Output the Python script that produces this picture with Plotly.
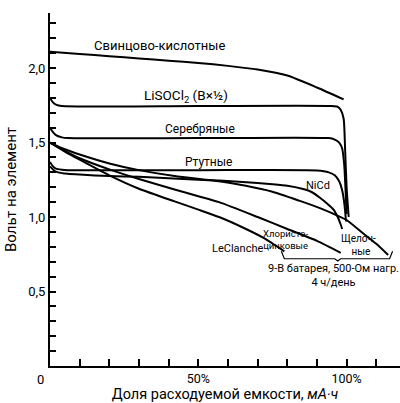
import plotly.graph_objects as go

# Discharge curves: x = share of used capacity (%), y = volts per cell
lead_x = [0, 10, 20, 30, 40, 50, 60, 70, 80, 90, 99]
lead_v = [2.11, 2.095, 2.08, 2.065, 2.05, 2.035, 2.015, 1.99, 1.95, 1.87, 1.79]

lisocl_x = [0, 1, 2, 4, 50, 95, 97, 98, 99, 99.5, 100, 100.7]
lisocl_v = [1.80, 1.77, 1.755, 1.745, 1.745, 1.745, 1.74, 1.72, 1.66, 1.45, 1.2, 1.0]

silver_x = [0, 1, 2, 4, 6, 50, 94, 96, 97.5, 98.5, 99.2, 99.6, 100]
silver_v = [1.6, 1.57, 1.55, 1.535, 1.53, 1.53, 1.53, 1.52, 1.5, 1.46, 1.35, 1.2, 1.02]

mercury_x = [0, 1, 2, 4, 6, 50, 90, 94, 96, 97.5, 98.5, 99.3, 99.8]
mercury_v = [1.37, 1.34, 1.325, 1.318, 1.315, 1.315, 1.313, 1.30, 1.28, 1.24, 1.18, 1.08, 0.97]

nicd_x = [0, 1, 2, 4, 6, 10, 20, 30, 40, 50, 57, 65, 75, 80, 85, 88, 91, 93.5, 95.6, 97, 98, 98.5]
nicd_v = [1.34, 1.32, 1.305, 1.295, 1.29, 1.285, 1.275, 1.27, 1.26, 1.25, 1.245, 1.235, 1.22, 1.21,
          1.19, 1.17, 1.13, 1.09, 1.05, 1.0, 0.95, 0.92]

alk_x = [0, 5, 10, 20, 30, 42, 57, 66, 75, 84, 91, 98, 100, 105, 110, 114]
alk_v = [1.5, 1.455, 1.42, 1.36, 1.315, 1.275, 1.24, 1.21, 1.17, 1.11, 1.06, 1.0, 0.98, 0.9, 0.82, 0.745]

zncl_x = [0, 5, 10, 20, 30, 42, 50, 57, 70, 80, 90, 98]
zncl_v = [1.5, 1.445, 1.395, 1.32, 1.255, 1.185, 1.14, 1.1, 1.0, 0.92, 0.84, 0.76]

lecl_x = [0, 5, 10, 20, 30, 42, 50, 57, 65, 72, 79]
lecl_v = [1.5, 1.44, 1.385, 1.28, 1.19, 1.105, 1.05, 1.0, 0.93, 0.86, 0.77]

curves = [
    (lead_x, lead_v), (lisocl_x, lisocl_v), (silver_x, silver_v), (mercury_x, mercury_v),
    (nicd_x, nicd_v), (alk_x, alk_v), (zncl_x, zncl_v), (lecl_x, lecl_v),
]

ytick_vals = [0.5, 1.0, 1.5, 2.0]
ytick_text = ['0,5', '1,0', '1,5', '2,0']
xtick_vals = [50, 100]
xtick_text = ['50%', '100%']

FONT = 'Roboto, Liberation Sans, sans-serif'

fig = go.Figure()
for xs, vs in curves:
    fig.add_trace(go.Scatter(x=xs, y=vs, mode='lines',
                             line=dict(color='black', width=2, shape='spline', smoothing=0.6),
                             showlegend=False, hoverinfo='skip'))

# curve labels
labels = [
    (37, 2.15, 'Свинцово-кислотные', 13),
    (46, 1.81, 'LiSOCl<sub>2</sub> (В×½)', 13.5),
    (50.7, 1.59, 'Серебряные', 12),
    (53.4, 1.37, 'Ртутные', 12),
    (90.5, 1.215, 'NiCd', 11),
    (63.3, 0.79, 'LeClanche', 11),
]
for x, y, t, s in labels:
    fig.add_annotation(x=x, y=y, text=t, showarrow=False,
                       font=dict(family=FONT, size=s, color='black'))

fig.add_annotation(x=79.5, y=0.85, text='Хлористо-<br>цинковые', showarrow=False,
                   font=dict(family=FONT, size=9.5, color='black'))
fig.add_annotation(x=104, y=0.81, text='Щелоч-<br>&nbsp;&nbsp;ные', showarrow=False,
                   font=dict(family=FONT, size=10, color='black'))
fig.add_annotation(x=95.5, y=0.61, text='9-В батарея, 500-Ом нагр.<br>4 ч/день', showarrow=False,
                   font=dict(family=FONT, size=11, color='black'))
fig.add_annotation(x=-0.028, y=-0.01, xref='paper', yref='paper', text='0', showarrow=False,
                   xanchor='center', yanchor='top',
                   font=dict(family=FONT, size=13, color='black'))

# brace under the 9-V battery curves
fig.add_shape(type='path',
              path='M 78,0.77 L 79,0.72 L 96,0.72 L 97,0.705 L 98,0.72 L 114.5,0.72 L 115.5,0.77',
              line=dict(color='black', width=1.2))

fig.update_layout(
    width=400, height=403,
    margin=dict(l=50, r=0, t=13, b=37),
    plot_bgcolor='white', paper_bgcolor='white',
    font=dict(family=FONT, size=13, color='black'),
    xaxis=dict(range=[0, 118], showgrid=False, zeroline=False,
               showline=True, linecolor='black', linewidth=2,
               tickvals=xtick_vals, ticktext=xtick_text, tickfont=dict(size=12.5),
               ticks='inside', ticklen=7, tickwidth=1.5, tickcolor='black',
               minor=dict(ticks='inside', dtick=10, ticklen=7, tickwidth=1.5, tickcolor='black'),
               title=dict(text='Доля расходуемой емкости, <i>мА·ч</i>', standoff=1,
                          font=dict(size=14.5))),
    yaxis=dict(range=[0, 2.37], showgrid=False, zeroline=False,
               showline=True, linecolor='black', linewidth=2,
               tickvals=ytick_vals, ticktext=ytick_text,
               ticks='inside', ticklen=6, tickwidth=1.5, tickcolor='black',
               minor=dict(ticks='inside', dtick=0.1, ticklen=6, tickwidth=1.5, tickcolor='black'),
               title=dict(text='Вольт на элемент', standoff=8, font=dict(size=15))),
)

fig.write_html('out.html', config={'displayModeBar': False},
               post_script="document.body.style.margin='0';")
